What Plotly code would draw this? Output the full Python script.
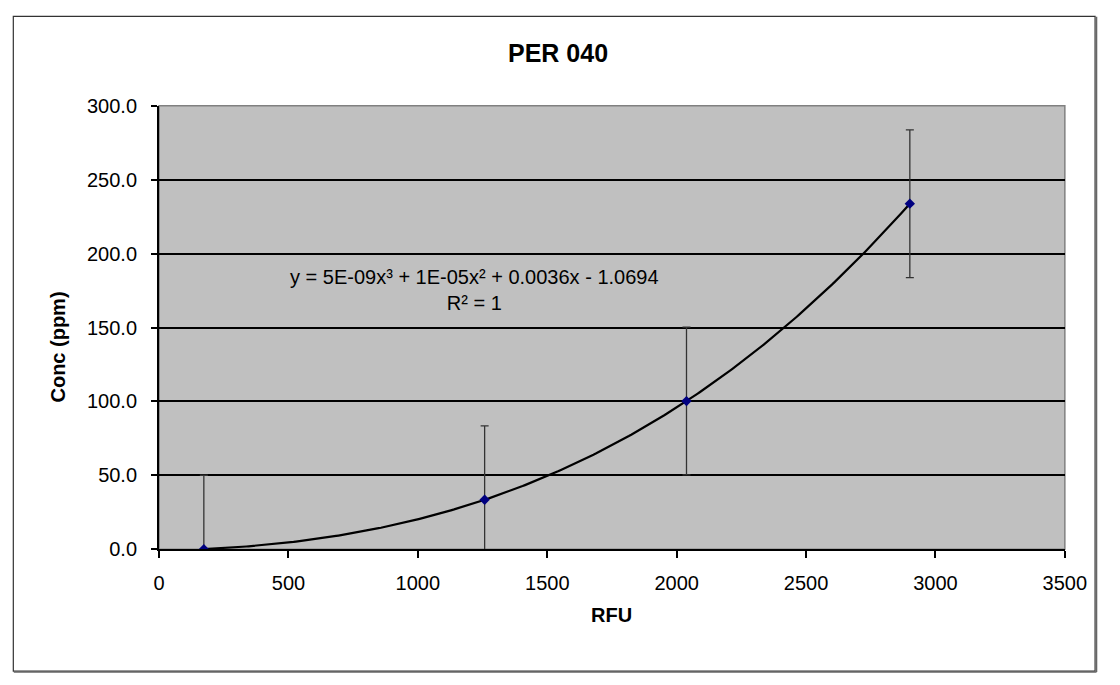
import numpy as np
import plotly.graph_objects as go

# Data
rfu = [173, 1258, 2038, 2901]
conc = [0.0, 33.4, 100.2, 233.8]
err = [50, 50, 50, 50]

x_ticks = [0, 500, 1000, 1500, 2000, 2500, 3000, 3500]
y_ticks = [0, 50, 100, 150, 200, 250, 300]
y_tick_labels = ["0.0", "50.0", "100.0", "150.0", "200.0", "250.0", "300.0"]

title = "PER 040"
x_title = "RFU"
y_title = "Conc (ppm)"
eq_text = "y = 5E-09x³ + 1E-05x² + 0.0036x - 1.0694<br>R² = 1"

W, H = 1120, 685
L, R, T, B = 157, 1086, 98, 556
FONT = "Liberation Sans, Arial, sans-serif"

# Polynomial trendline (cubic fit through the points)
coef = np.polyfit(rfu, conc, 3)
xs = np.linspace(rfu[0], rfu[-1], 300)
ys = np.polyval(coef, xs)

fig = go.Figure()
fig.add_trace(go.Scatter(
    x=xs, y=ys, mode="lines",
    line=dict(color="black", width=2.2),
    hoverinfo="skip", showlegend=False,
))
fig.add_trace(go.Scatter(
    x=rfu, y=conc, mode="markers",
    marker=dict(symbol="diamond", size=8, color="#000080"),
    error_y=dict(type="data", array=err, visible=True, color="#333333",
                 thickness=1.3, width=4),
    showlegend=False,
))

def px(x):
    return x / W

def py(y):
    return 1 - y / H

def ann(text, x, y, size, angle=0):
    return dict(text=text, xref="paper", yref="paper",
                x=px(x), y=py(y), xanchor="center", yanchor="middle",
                showarrow=False, textangle=angle, align="center",
                font=dict(family=FONT, size=size, color="black"))

fig.update_layout(
    width=W, height=H,
    margin=dict(l=0, r=0, t=0, b=0),
    paper_bgcolor="white",
    plot_bgcolor="#C0C0C0",
    font=dict(family=FONT, size=20, color="black"),
    xaxis=dict(
        domain=[px(L), px(R)],
        range=[0, 3500],
        tickvals=x_ticks,
        ticktext=[str(v) for v in x_ticks],
        ticks="outside", ticklen=7, tickwidth=2, tickcolor="black",
        ticklabelstandoff=8,
        showgrid=False, zeroline=False,
        showline=True, linecolor="black", linewidth=2,
        tickfont=dict(family=FONT, size=20),
    ),
    yaxis=dict(
        domain=[py(B), py(T)],
        range=[0, 300],
        tickvals=y_ticks,
        ticktext=y_tick_labels,
        ticks="outside", ticklen=6, tickwidth=2, tickcolor="black",
        ticklabelstandoff=10,
        showgrid=True, gridcolor="black", gridwidth=2,
        zeroline=False,
        showline=True, linecolor="black", linewidth=2,
        tickfont=dict(family=FONT, size=20),
    ),
    shapes=[
        dict(type="rect", xref="paper", yref="paper",
             x0=px(L), x1=px(R), y0=py(B), y1=py(T),
             line=dict(color="#808080", width=1.5), layer="below"),
        dict(type="rect", xref="paper", yref="paper",
             x0=px(7.5), x1=px(1117), y0=py(682), y1=py(5.5),
             line=dict(color="#333333", width=1.2)),
        dict(type="line", xref="paper", yref="paper",
             x0=px(8), x1=px(1118.5), y0=py(683), y1=py(683),
             line=dict(color="#666666", width=1.5)),
        dict(type="line", xref="paper", yref="paper",
             x0=px(1118.5), x1=px(1118.5), y0=py(6), y1=py(683),
             line=dict(color="#666666", width=1.5)),
    ],
    annotations=[
        ann("<b>" + title + "</b>", 566, 43, 25),
        ann("<b>" + x_title + "</b>", 621, 624, 20),
        ann("<b>" + y_title + "</b>", 53, 347, 20, -90),
        ann(eq_text, 480, 288, 20),
    ],
)

fig.write_html("out.html",
               config={"displayModeBar": False},
               post_script="document.body.style.margin='0px';"
                           "document.body.style.overflow='hidden';")
